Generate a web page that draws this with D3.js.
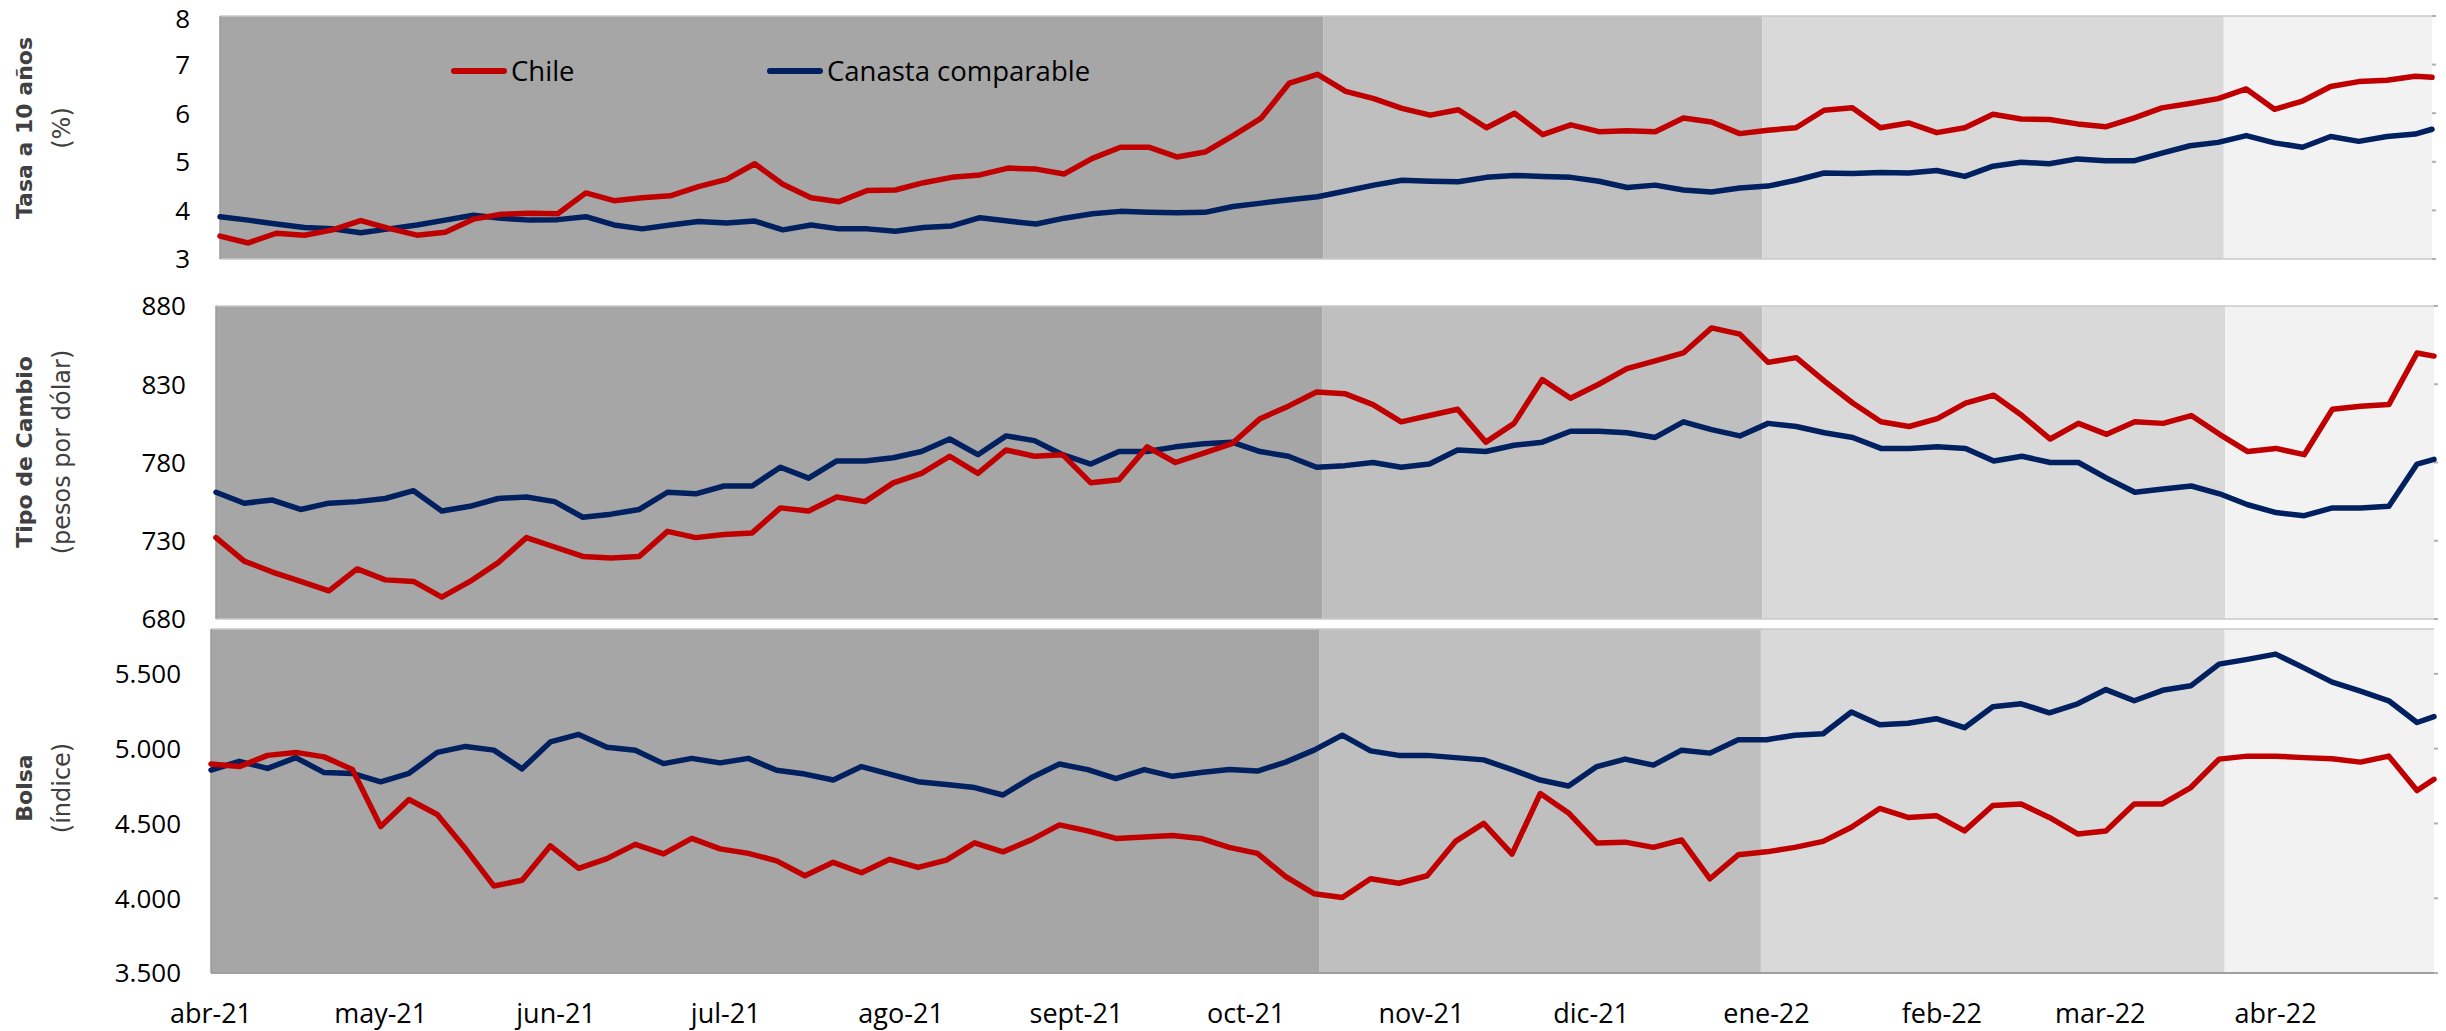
<!DOCTYPE html>
<html>
<head>
<meta charset="utf-8">
<script src="https://cdn.jsdelivr.net/npm/d3@7"></script>
<style>
  body { margin: 0; background: #ffffff; }
  svg { display: block; }
  .tick-lab { font-family: "Open Sans", "Liberation Sans", sans-serif; font-size: 26px; fill: #000; }
  .x-lab { font-family: "Open Sans", "Liberation Sans", sans-serif; font-size: 27px; fill: #000; }
  .titulo { font-family: "DejaVu Sans", sans-serif; font-weight: bold; font-size: 22px; fill: #404040; }
  .subtitulo { font-family: "DejaVu Sans", sans-serif; font-size: 24px; fill: #404040; }
  .leyenda { font-family: "Open Sans", "Liberation Sans", sans-serif; font-size: 27.5px; fill: #000; }
</style>
</head>
<body>
<div id="chart"></div>
<script>
// fechas de lectura (cada 5 dias) compartidas por las seis series
var fechas = ["2021-04-01","2021-04-06","2021-04-11","2021-04-16","2021-04-21","2021-04-26",
  "2021-05-01","2021-05-06","2021-05-11","2021-05-16","2021-05-21","2021-05-26","2021-05-31",
  "2021-06-05","2021-06-10","2021-06-15","2021-06-20","2021-06-25","2021-06-30",
  "2021-07-05","2021-07-10","2021-07-15","2021-07-20","2021-07-25","2021-07-30",
  "2021-08-04","2021-08-09","2021-08-14","2021-08-19","2021-08-24","2021-08-29",
  "2021-09-03","2021-09-08","2021-09-13","2021-09-18","2021-09-23","2021-09-28",
  "2021-10-03","2021-10-08","2021-10-13","2021-10-18","2021-10-23","2021-10-28",
  "2021-11-02","2021-11-07","2021-11-12","2021-11-17","2021-11-22","2021-11-27",
  "2021-12-02","2021-12-07","2021-12-12","2021-12-17","2021-12-22","2021-12-27",
  "2022-01-01","2022-01-06","2022-01-11","2022-01-16","2022-01-21","2022-01-26","2022-01-31",
  "2022-02-05","2022-02-10","2022-02-15","2022-02-20","2022-02-25",
  "2022-03-02","2022-03-07","2022-03-12","2022-03-17","2022-03-22","2022-03-27",
  "2022-04-01","2022-04-06","2022-04-11","2022-04-16","2022-04-21","2022-04-26","2022-04-29"];

// tasa a 10 anos (%)
var tasaChile = [3.47,3.33,3.53,3.49,3.60,3.79,3.63,3.49,3.55,3.82,
  3.92,3.94,3.93,4.36,4.20,4.26,4.30,4.49,4.64,4.96,
  4.54,4.26,4.18,4.41,4.42,4.57,4.68,4.73,4.87,4.85,
  4.75,5.07,5.30,5.30,5.10,5.20,5.54,5.90,6.62,6.80,
  6.45,6.30,6.10,5.96,6.07,5.70,6.00,5.56,5.76,5.62,
  5.64,5.62,5.90,5.82,5.58,5.65,5.70,6.06,6.11,5.70,
  5.80,5.60,5.70,5.98,5.88,5.87,5.78,5.72,5.90,6.11,
  6.20,6.30,6.50,6.08,6.25,6.55,6.65,6.68,6.76,6.74];
var tasaCanasta = [3.87,3.80,3.72,3.65,3.62,3.54,3.62,3.70,3.80,3.90,
  3.84,3.80,3.81,3.87,3.70,3.62,3.70,3.77,3.74,3.78,
  3.60,3.70,3.62,3.62,3.57,3.65,3.68,3.85,3.78,3.72,
  3.84,3.93,3.98,3.96,3.95,3.96,4.08,4.15,4.22,4.28,
  4.40,4.52,4.62,4.60,4.59,4.68,4.72,4.70,4.68,4.60,
  4.47,4.52,4.42,4.38,4.46,4.50,4.62,4.77,4.76,4.78,
  4.77,4.82,4.70,4.91,4.99,4.96,5.06,5.02,5.02,5.18,
  5.33,5.40,5.54,5.39,5.30,5.52,5.42,5.52,5.57,5.67];

// tipo de cambio (pesos por dolar)
var tcChile = [732,717,710,704,698,712,705,704,694,704,
  716,732,726,720,719,720,736,732,734,735,
  751,749,758,755,767,773,784,773,788,784,
  785,767,769,790,780,786,792,808,816,825,
  824,817,806,810,814,793,805,833,821,830,
  840,845,850,866,862,844,847,832,818,806,
  803,808,818,823,810,795,805,798,806,805,
  810,798,787,789,785,814,816,817,850,848];
var tcCanasta = [761,754,756,750,754,755,757,762,749,752,
  757,758,755,745,747,750,761,760,765,765,
  777,770,781,781,783,787,795,785,797,794,
  785,779,787,787,790,792,793,787,784,777,
  778,780,777,779,788,787,791,793,800,800,
  799,796,806,801,797,805,803,799,796,789,
  789,790,789,781,784,780,780,770,761,763,
  765,760,753,748,746,751,751,752,779,782];

// bolsa (indice)
var bolsaChile = [4897,4880,4955,4975,4945,4860,4480,4660,4560,4330,
  4082,4120,4350,4200,4265,4360,4296,4400,4330,4300,
  4250,4150,4240,4170,4260,4206,4255,4370,4310,4390,
  4490,4450,4400,4410,4420,4400,4340,4300,4144,4030,
  4005,4130,4100,4150,4380,4500,4295,4700,4570,4370,
  4375,4340,4389,4130,4290,4310,4340,4380,4475,4600,
  4540,4552,4450,4620,4630,4540,4430,4450,4630,4630,
  4740,4930,4950,4950,4940,4932,4910,4950,4720,4795];
var bolsaCanasta = [4857,4915,4868,4940,4840,4834,4778,4835,4975,5015,
  4990,4865,5045,5095,5010,4990,4900,4935,4905,4935,
  4855,4830,4790,4880,4830,4779,4760,4740,4690,4805,
  4897,4860,4800,4860,4815,4840,4860,4850,4910,4990,
  5090,4985,4955,4955,4940,4925,4860,4790,4750,4880,
  4930,4890,4990,4970,5060,5060,5090,5100,5245,5160,
  5170,5200,5140,5280,5300,5240,5300,5395,5320,5390,
  5420,5565,5597,5632,5540,5445,5385,5320,5175,5214];

// eje x: meses
var mesesFechas = ["2021-04-01","2021-05-01","2021-06-01","2021-07-01","2021-08-01","2021-09-01",
  "2021-10-01","2021-11-01","2021-12-01","2022-01-01","2022-02-01","2022-03-01","2022-04-01"];
var mesesLabels = ["abr-21","may-21","jun-21","jul-21","ago-21","sept-21","oct-21",
  "nov-21","dic-21","ene-22","feb-22","mar-22","abr-22"];

// periodos sombreados
var periodosInicio = ["2021-04-01","2021-10-14","2021-12-31","2022-03-23"];
var periodosFin = ["2021-10-14","2021-12-31","2022-03-23","2022-04-29"];

// ejes y
var tasaTicks = [3,4,5,6,7,8];
var tcTicks = [680,730,780,830,880];
var bolsaTicks = [3500,4000,4500,5000,5500];

var svgWidth = 2446;
var svgHeight = 1031;
var parseDate = d3.timeParse("%Y-%m-%d");
var fmtMiles = d3.formatLocale({decimal: ",", thousands: ".", grouping: [3], currency: ["$", ""]}).format(",.0f");

var colorChile = "#c00000";
var colorCanasta = "#002060";
var grises = ["#a6a6a6", "#bfbfbf", "#d9d9d9", "#f2f2f2"];

var svg = d3.select("#chart")
  .append("svg")
  .attr("width", svgWidth)
  .attr("height", svgHeight);

// cada panel: datos + caja del area de grafico
var paneles = [
  {titulo: "Tasa a 10 años", sub: "(%)", chile: tasaChile, canasta: tasaCanasta,
   dominio: [3, 8], ticks: tasaTicks, fmt: d3.format("d"),
   left: 220, right: 2432, top: 16, bottom: 259, tituloY: 128},
  {titulo: "Tipo de Cambio", sub: "(pesos por dólar)", chile: tcChile, canasta: tcCanasta,
   dominio: [680, 880], ticks: tcTicks, fmt: d3.format("d"),
   left: 216, right: 2434, top: 306, bottom: 619, tituloY: 452},
  {titulo: "Bolsa", sub: "(índice)", chile: bolsaChile, canasta: bolsaCanasta,
   dominio: [3500, 5800], ticks: bolsaTicks, fmt: fmtMiles,
   left: 211, right: 2434, top: 629, bottom: 973, tituloY: 788}
];

var fechasParsed = fechas.map(parseDate);
var dominioX = [parseDate("2021-04-01"), parseDate("2022-04-29")];

paneles.forEach(function(p, i) {
  var x = d3.scaleTime().domain(dominioX).range([p.left, p.right]);
  var y = d3.scaleLinear().domain(p.dominio).range([p.bottom, p.top]);
  var g = svg.append("g");

  // sombreado por periodos
  g.selectAll("rect.periodo")
    .data(periodosInicio)
    .enter()
    .append("rect")
    .attr("x", d => x(parseDate(d)))
    .attr("y", p.top)
    .attr("width", (d, j) => x(parseDate(periodosFin[j])) - x(parseDate(d)))
    .attr("height", p.bottom - p.top)
    .attr("fill", (d, j) => grises[j]);

  // bordes
  g.append("line")
    .attr("x1", p.left).attr("x2", p.right)
    .attr("y1", p.top).attr("y2", p.top)
    .attr("stroke", "#c8c8c8").attr("stroke-width", 1.5);
  g.append("line")
    .attr("x1", p.left).attr("x2", p.right)
    .attr("y1", p.bottom).attr("y2", p.bottom)
    .attr("stroke", i == 2 ? "#a0a0a0" : "#c8c8c8").attr("stroke-width", i == 2 ? 2 : 1.5);
  g.append("line")
    .attr("x1", p.left).attr("x2", p.left)
    .attr("y1", p.top).attr("y2", p.bottom)
    .attr("stroke", "#9a9a9a").attr("stroke-width", 1.5);

  // marcas pequenas al lado derecho
  g.selectAll("line.rtick")
    .data(p.ticks)
    .enter()
    .append("line")
    .attr("x1", p.right).attr("x2", p.right + 4)
    .attr("y1", d => y(d)).attr("y2", d => y(d))
    .attr("stroke", "#b0b0b0").attr("stroke-width", 2);

  // etiquetas eje y (la de arriba del primer panel un poco mas abajo para no salirse)
  g.selectAll("text.tick-lab")
    .data(p.ticks)
    .enter()
    .append("text")
    .attr("class", "tick-lab")
    .attr("x", p.left - 30)
    .attr("y", d => Math.max(y(d), 19))
    .attr("dy", "0.36em")
    .attr("text-anchor", "end")
    .text(d => p.fmt(d));

  // titulos rotados
  g.append("text")
    .attr("class", "titulo")
    .attr("transform", `translate(24, ${p.tituloY}) rotate(-90)`)
    .attr("text-anchor", "middle")
    .attr("dominant-baseline", "central")
    .text(p.titulo);
  g.append("text")
    .attr("class", "subtitulo")
    .attr("transform", `translate(62, ${p.tituloY}) rotate(-90)`)
    .attr("text-anchor", "middle")
    .attr("dominant-baseline", "central")
    .text(p.sub);

  // lineas
  var line = d3.line()
    .x((d, j) => x(fechasParsed[j]))
    .y(d => y(d));

  g.append("path")
    .datum(p.canasta)
    .attr("d", line)
    .attr("fill", "none")
    .attr("stroke", colorCanasta)
    .attr("stroke-width", 5.5)
    .attr("stroke-linejoin", "round")
    .attr("stroke-linecap", "round");

  g.append("path")
    .datum(p.chile)
    .attr("d", line)
    .attr("fill", "none")
    .attr("stroke", colorChile)
    .attr("stroke-width", 5.5)
    .attr("stroke-linejoin", "round")
    .attr("stroke-linecap", "round");

  // eje x solo en el ultimo panel
  if (i == 2) {
    g.selectAll("text.x-lab")
      .data(mesesFechas)
      .enter()
      .append("text")
      .attr("class", "x-lab")
      .attr("x", d => x(parseDate(d)))
      .attr("y", 1023)
      .attr("text-anchor", "middle")
      .text((d, j) => mesesLabels[j]);
  }
});

// leyenda en el primer panel
var leyenda = [{txt: "Chile", color: colorChile, x: 451}, {txt: "Canasta comparable", color: colorCanasta, x: 767}];
var leg = svg.append("g");
leyenda.forEach(function(l) {
  leg.append("line")
    .attr("x1", l.x + 3).attr("x2", l.x + 53)
    .attr("y1", 71).attr("y2", 71)
    .attr("stroke", l.color)
    .attr("stroke-width", 6)
    .attr("stroke-linecap", "round");
  leg.append("text")
    .attr("class", "leyenda")
    .attr("x", l.x + 60)
    .attr("y", 81)
    .text(l.txt);
});
</script>
</body>
</html>
